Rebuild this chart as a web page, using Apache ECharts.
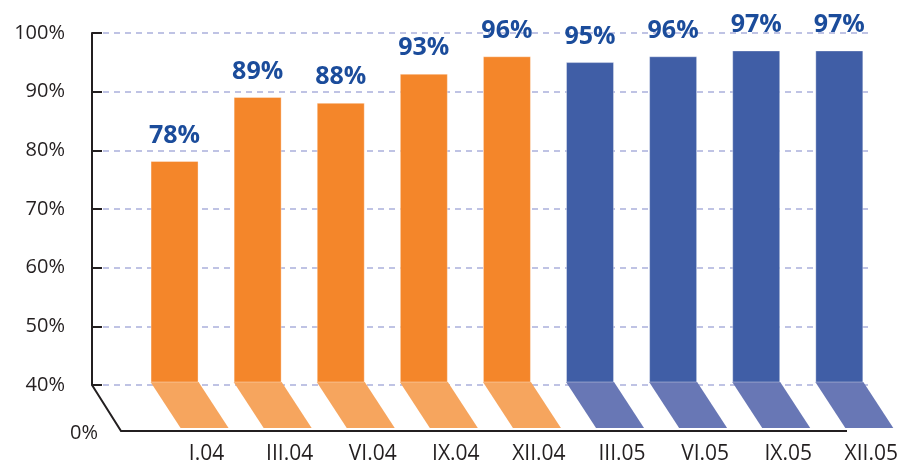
<!DOCTYPE html>
<html>
<head>
<meta charset="utf-8">
<script src="https://cdn.jsdelivr.net/npm/echarts@6/dist/echarts.min.js"></script>
<style>
  html, body { margin: 0; padding: 0; background: #fff; }
  #main { width: 901px; height: 465px; }
</style>
</head>
<body>
<div id="main"></div>
<script>
// periods and share values (percent)
const categories = ['I.04', 'III.04', 'VI.04', 'IX.04', 'XII.04', 'III.05', 'VI.05', 'IX.05', 'XII.05'];
const values = [78, 89, 88, 93, 96, 95, 96, 97, 97];
const yTicks = [40, 50, 60, 70, 80, 90, 100];

const FONT = '"Open Sans", "Noto Sans", sans-serif';
const orange = '#f4862a', orangeFloor = '#f6a55e';
const blue = '#405ea6', blueFloor = '#6877b5';

// first five bars are 2004, the rest 2005
function isOrange(i) { return i < 5; }

let chart = echarts.init(document.getElementById('main'));

let option = {
  animation: false,
  grid: [
    // back wall: y axis + gridlines
    { left: 92, right: 29, top: 33, bottom: 80 },
    // bars
    { left: 133, width: 748, top: 33, bottom: 80 }
  ],
  xAxis: [
    { gridIndex: 0, type: 'value', show: false },
    {
      gridIndex: 1,
      type: 'category',
      data: categories,
      axisLine: { show: false },
      axisTick: { show: false },
      axisLabel: {
        margin: 62,
        padding: [0, 0, 0, 64],
        fontFamily: FONT,
        fontSize: 21,
        color: '#231f20'
      }
    }
  ],
  yAxis: [
    {
      gridIndex: 0,
      type: 'value',
      min: yTicks[0],
      max: yTicks[yTicks.length - 1],
      interval: 10,
      axisLine: { show: true, lineStyle: { color: '#231f20', width: 2 } },
      axisTick: { show: true, inside: true, length: 10, lineStyle: { color: '#231f20', width: 2 } },
      axisLabel: {
        margin: 27,
        formatter: '{value}%',
        fontFamily: FONT,
        fontSize: 20,
        color: '#231f20'
      },
      splitLine: { show: true, lineStyle: { color: '#aab0dc', type: [6, 5], width: 1.5 } }
    },
    {
      gridIndex: 1,
      type: 'value',
      min: yTicks[0],
      max: yTicks[yTicks.length - 1],
      show: false
    }
  ],
  series: [
    {
      // floor shadows under each bar
      type: 'custom',
      xAxisIndex: 1,
      yAxisIndex: 1,
      clip: false,
      silent: true,
      data: values.map((v, i) => [i, v]),
      renderItem: function (params, api) {
        let i = api.value(0);
        let p = api.coord([i, yTicks[0]]);
        let half = 24, dx = 30, dy = 46;
        return {
          type: 'polygon',
          shape: {
            points: [
              [p[0] - half, p[1]],
              [p[0] + half, p[1]],
              [p[0] + half + dx, p[1] + dy],
              [p[0] - half + dx, p[1] + dy]
            ]
          },
          style: { fill: isOrange(i) ? orangeFloor : blueFloor }
        };
      }
    },
    {
      type: 'bar',
      xAxisIndex: 1,
      yAxisIndex: 1,
      barWidth: 48,
      data: values.map((v, i) => ({
        value: v,
        itemStyle: { color: isOrange(i) ? orange : blue }
      })),
      itemStyle: { borderColor: 'rgba(255,255,255,0.35)', borderWidth: 1 },
      label: {
        show: true,
        position: 'top',
        distance: 13,
        formatter: '{c}%',
        fontFamily: FONT,
        fontSize: 25,
        fontWeight: 'bold',
        color: '#1b4c9b'
      }
    }
  ],
  graphic: [
    {
      type: 'polyline',
      shape: { points: [[92, 385], [121, 431], [847, 431]] },
      style: { stroke: '#231f20', lineWidth: 2, fill: null },
      z: 10
    },
    {
      type: 'text',
      x: 98,
      y: 433,
      style: {
        text: '0%',
        align: 'right',
        verticalAlign: 'middle',
        font: '20px ' + FONT,
        fill: '#231f20'
      }
    }
  ]
};

option && chart.setOption(option);
</script>
</body>
</html>
